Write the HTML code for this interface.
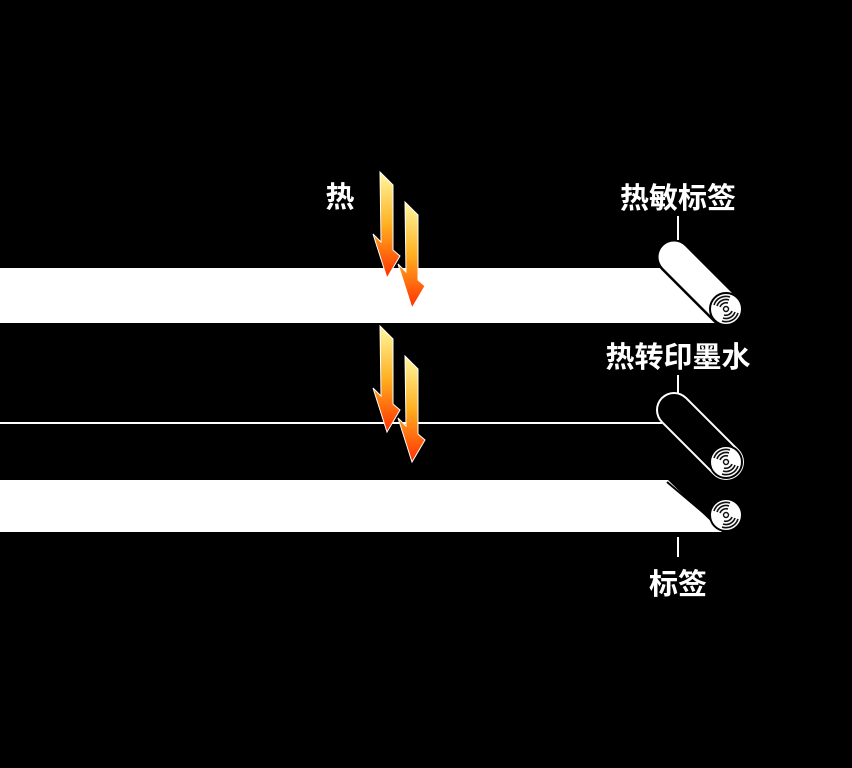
<!DOCTYPE html>
<html><head><meta charset="utf-8"><style>
html,body{margin:0;padding:0;background:#000;width:852px;height:768px;overflow:hidden}
text{font-family:"Liberation Sans","Noto Sans CJK SC",sans-serif;font-weight:bold;fill:#fff;font-size:29px}
</style></head><body>
<svg width="852" height="768" viewBox="0 0 852 768" xmlns="http://www.w3.org/2000/svg">
<defs>
<linearGradient id="g" x1="0" y1="0" x2="0" y2="1">
<stop offset="0" stop-color="#fff8a0"/><stop offset="0.5" stop-color="#ffb020"/><stop offset="1" stop-color="#ff3000"/>
</linearGradient>
<g id="disc">
<circle r="16" fill="#fff" stroke="#000" stroke-width="2"/>
<path d="M-12,-4 A12.5,12.5 0 0 1 4,-12 M-9,-3 A9.5,9.5 0 0 1 3,-9 M-6,-2 A6.5,6.5 0 0 1 2,-6" stroke="#111" stroke-width="1.6" fill="none"/>
<path d="M12,4 A12.5,12.5 0 0 1 -4,12 M9,3 A9.5,9.5 0 0 1 -3,9 M6,2 A6.5,6.5 0 0 1 -2,6" stroke="#111" stroke-width="1.6" fill="none"/>
<circle r="2.5" fill="none" stroke="#111" stroke-width="1.4"/>
</g>
<polygon id="arr" points="0,0 13,13 13,78 20,84 7,106 -7,62 1,70" fill="url(#g)" stroke="#fff" stroke-width="1"/>
</defs>
<polygon points="0,268 680,268 722,323 0,323" fill="#fff"/>
<line x1="674" y1="257" x2="726" y2="309" stroke="#000" stroke-width="36" stroke-linecap="round"/>
<line x1="674" y1="257" x2="726" y2="309" stroke="#fff" stroke-width="31" stroke-linecap="round"/>
<use href="#disc" x="726" y="309"/>
<line x1="0" y1="423" x2="662" y2="423" stroke="#fff" stroke-width="2"/>
<line x1="674" y1="410" x2="726" y2="462" stroke="#fff" stroke-width="36" stroke-linecap="round"/>
<line x1="674" y1="410" x2="726" y2="462" stroke="#000" stroke-width="32" stroke-linecap="round"/>
<use href="#disc" x="726" y="462"/>
<polygon points="0,480 668,480 722,532 0,532" fill="#fff"/>
<line x1="667" y1="482" x2="718" y2="525" stroke="#000" stroke-width="2"/>
<use href="#disc" x="726" y="515"/>
<use href="#arr" x="380" y="172"/>
<use href="#arr" x="405" y="202"/>
<use href="#arr" x="380" y="326"/>
<use href="#arr" x="405" y="356"/>
<text x="340" y="207" text-anchor="middle">热</text>
<text x="678" y="208" text-anchor="middle">热敏标签</text>
<line x1="678" y1="216" x2="678" y2="240" stroke="#fff" stroke-width="2"/>
<text x="678" y="367" text-anchor="middle">热转印墨水</text>
<line x1="678" y1="375" x2="678" y2="393" stroke="#fff" stroke-width="2"/>
<line x1="678" y1="537" x2="678" y2="557" stroke="#fff" stroke-width="2"/>
<text x="678" y="594" text-anchor="middle">标签</text>
</svg>
</body></html>
